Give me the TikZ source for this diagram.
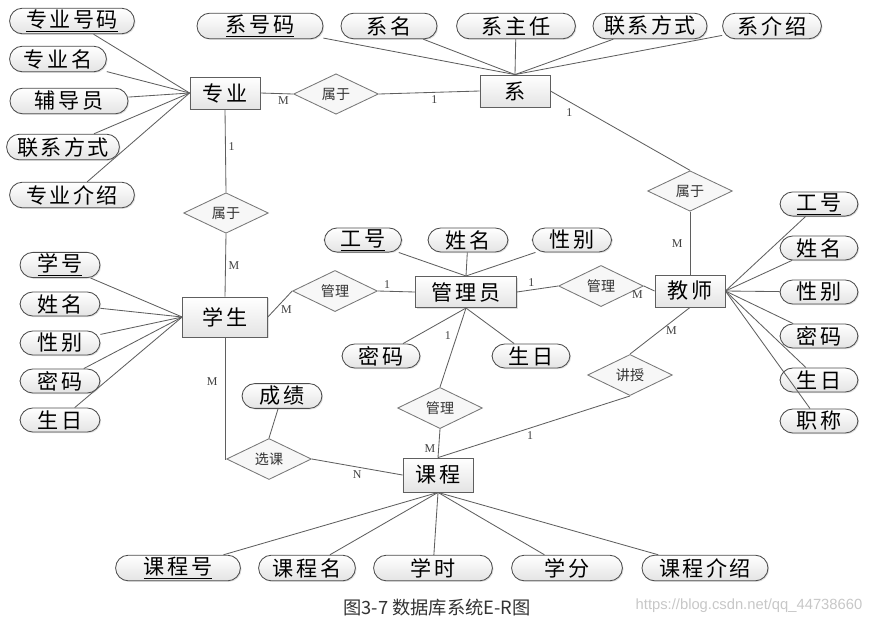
\documentclass[tikz,border=0pt]{standalone}
\usepackage{fontspec}
\setmainfont{Liberation Serif}
\setsansfont{Liberation Sans}
\newfontfamily\cjk{Noto Sans CJK SC}
\newfontfamily\cjkwide{Noto Sans CJK SC}[LetterSpace=12]
\usetikzlibrary{shapes.geometric,shadows}
\definecolor{linegray}{RGB}{95,95,95}
\definecolor{boxgray}{RGB}{228,228,228}

\begin{document}
\begin{tikzpicture}[x=0.025cm,y=-0.025cm,
      entity/.style={draw=linegray,line width=0.6pt,top color=white,bottom color=boxgray,
        minimum width=1.75cm,minimum height=0.8cm,inner sep=1pt,
        font=\fontsize{15}{17}\cjkwide,
        drop shadow={shadow xshift=0.8pt,shadow yshift=-0.8pt,opacity=0.25}},
      attr/.style={draw=black!70,line width=0.6pt,rounded corners=0.32cm,
        top color=white,bottom color=boxgray,minimum height=0.64cm,inner sep=1pt,
        font=\fontsize{15}{17}\cjkwide,
        drop shadow={shadow xshift=0.8pt,shadow yshift=-0.8pt,opacity=0.25}},
      rel/.style={diamond,draw=linegray!85,line width=0.6pt,fill=gray!6,
        minimum width=2.12cm,minimum height=0.98cm,inner sep=0pt,
        font=\fontsize{10}{12}\cjk,text=black!80},
      card/.style={font=\fontsize{8.5}{10}\selectfont,text=black!75,inner sep=2pt},
      link/.style={draw=linegray,line width=0.6pt}]
    \useasboundingbox (0,0) rectangle (880,633);

    % entities
    \node[entity] (zy) at (225,93) {专业};
    \node[entity] (xi) at (515,91) {系};
    \node[entity,minimum width=2.12cm,minimum height=1cm] (xs) at (225,317) {学生};
    \node[entity,minimum width=2.52cm,minimum height=0.78cm] (gly) at (466,292) {管理员};
    \node[entity] (js) at (690,291) {教师};
    \node[entity,minimum height=0.85cm] (kc) at (438,475) {课程};

    % relationships
    \node[rel] (sy1) at (336,94) {属于};
    \node[rel] (sy2) at (226,213) {属于};
    \node[rel] (sy3) at (690,191) {属于};
    \node[rel] (gl1) at (335,291) {管理};
    \node[rel] (gl2) at (601,286) {管理};
    \node[rel] (gl3) at (440,408) {管理};
    \node[rel] (jsh) at (630,375) {讲授};
    \node[rel] (xk) at (269,459) {选课};

    % attributes of 专业
    \node[attr,minimum width=3.12cm] (zy1) at (72,21) {\underline{专业号码}};
    \node[attr,minimum width=2.42cm] (zy2) at (58,59) {专业名};
    \node[attr,minimum width=2.95cm] (zy3) at (69,101) {辅导员};
    \node[attr,minimum width=2.82cm] (zy4) at (63,147) {联系方式};
    \node[attr,minimum width=3.12cm] (zy5) at (72,195) {专业介绍};

    % attributes of 系
    \node[attr,minimum width=3.15cm] (xi1) at (260,26) {\underline{系号码}};
    \node[attr,minimum width=2.4cm] (xi2) at (389,26) {系名};
    \node[attr,minimum width=2.97cm] (xi3) at (516,26) {系主任};
    \node[attr,minimum width=2.85cm] (xi4) at (650,26) {联系方式};
    \node[attr,minimum width=2.47cm] (xi5) at (772,26) {系介绍};

    % attributes of 学生
    \node[attr,minimum width=2cm,minimum height=0.6cm] (xs1) at (60,265) {\underline{学号}};
    \node[attr,minimum width=2cm,minimum height=0.6cm] (xs2) at (60,304) {姓名};
    \node[attr,minimum width=2cm,minimum height=0.6cm] (xs3) at (60,343) {性别};
    \node[attr,minimum width=2cm,minimum height=0.6cm] (xs4) at (60,381) {密码};
    \node[attr,minimum width=2cm,minimum height=0.6cm] (xs5) at (60,420) {生日};

    % attributes of 管理员
    \node[attr,minimum width=1.93cm,minimum height=0.6cm] (gly1) at (363,240) {\underline{工号}};
    \node[attr,minimum width=2cm,minimum height=0.6cm] (gly2) at (468,240) {姓名};
    \node[attr,minimum width=1.98cm,minimum height=0.6cm] (gly3) at (572,240) {性别};
    \node[attr,minimum width=1.95cm,minimum height=0.6cm] (gly4) at (381,356) {密码};
    \node[attr,minimum width=1.95cm,minimum height=0.6cm] (gly5) at (531,356) {生日};

    % attributes of 教师
    \node[attr,minimum width=1.95cm,minimum height=0.6cm] (js1) at (819,204) {\underline{工号}};
    \node[attr,minimum width=1.95cm,minimum height=0.6cm] (js2) at (819,248) {姓名};
    \node[attr,minimum width=1.95cm,minimum height=0.6cm] (js3) at (819,292) {性别};
    \node[attr,minimum width=1.95cm,minimum height=0.6cm] (js4) at (819,336) {密码};
    \node[attr,minimum width=1.95cm,minimum height=0.6cm] (js5) at (819,380) {生日};
    \node[attr,minimum width=1.95cm,minimum height=0.6cm] (js6) at (819,421) {职称};

    % attributes of 课程 and 选课
    \node[attr,minimum width=3.12cm] (kc1) at (178,568) {\underline{课程号}};
    \node[attr,minimum width=2.42cm] (kc2) at (307,568) {课程名};
    \node[attr,minimum width=2.97cm] (kc3) at (433,568) {学时};
    \node[attr,minimum width=2.77cm] (kc4) at (567,568) {学分};
    \node[attr,minimum width=3.15cm] (kc5) at (705,568) {课程介绍};
    \node[attr,minimum width=2cm,minimum height=0.62cm] (cj) at (282,396) {成绩};

    % attribute links
    \foreach \a in {zy1,zy2,zy3,zy4,zy5} \draw[link] (\a) -- (zy.west);
    \foreach \a in {xi1,xi2,xi3,xi4,xi5} \draw[link] (\a) -- (xi.north);
    \foreach \a in {xs1,xs2,xs3,xs4,xs5} \draw[link] (\a) -- (xs.west);
    \foreach \a in {gly1,gly2,gly3} \draw[link] (\a) -- (gly.north);
    \foreach \a in {gly4,gly5} \draw[link] (\a) -- (gly.south);
    \foreach \a in {js1,js2,js3,js4,js5,js6} \draw[link] (\a) -- (js.east);
    \foreach \a in {kc1,kc2,kc3,kc4,kc5} \draw[link] (\a) -- (kc.south);
    \draw[link] (cj) -- (xk.north);

    % relationship links
    \draw[link] (zy.east) -- node[card,pos=0.7,below] {M} (sy1.west);
    \draw[link] (sy1.east) -- node[card,pos=0.55,below] {1} (xi.west);
    \draw[link] (xi.east) -- node[card,pos=0.18,below left] {1} (sy3.north);
    \draw[link] (sy3.south) -- node[card,left=3pt] {M} (js.north);
    \draw[link] (zy.south) -- node[card,pos=0.45,right] {1} (sy2.north);
    \draw[link] (sy2.south) -- node[card,pos=0.5,right] {M} (xs.north);
    \draw[link] (xs.east) -- node[card,pos=0.3,right=2pt] {M} (gl1.west);
    \draw[link] (gl1.east) -- node[card,pos=0.25,above] {1} (gly.west);
    \draw[link] (gly.east) -- node[card,pos=0.35,above] {1} (gl2.west);
    \draw[link] (gl2.east) -- node[card,pos=0.2,below left] {M} (js.west);
    \draw[link] (js.south) -- node[card,pos=0.5,right=2pt] {M} (jsh.north);
    \draw[link] (jsh.south) -- node[card,pos=0.52,below] {1} (kc.north);
    \draw[link] (gly.south) -- node[card,pos=0.35,left=2pt] {1} (gl3.north);
    \draw[link] (gl3.south) -- node[card,pos=0.7,left] {M} (kc.north);
    \draw[link] (xs.south) |- node[card,pos=0.18,left=3pt] {M} (xk.west);
    \draw[link] (xk.east) -- node[card,pos=0.5,below] {N} (kc.west);

    % caption and watermark
    \node[font=\fontsize{13}{15}\cjk,text=black!80] (cap) at (437,608) {图3-7 数据库系统E-R图};
    \node[font=\fontsize{10.5}{12}\sffamily,text=black!22] (wm) at (749,606) {https://blog.csdn.net/qq\_44738660};
  \end{tikzpicture}
\end{document}
